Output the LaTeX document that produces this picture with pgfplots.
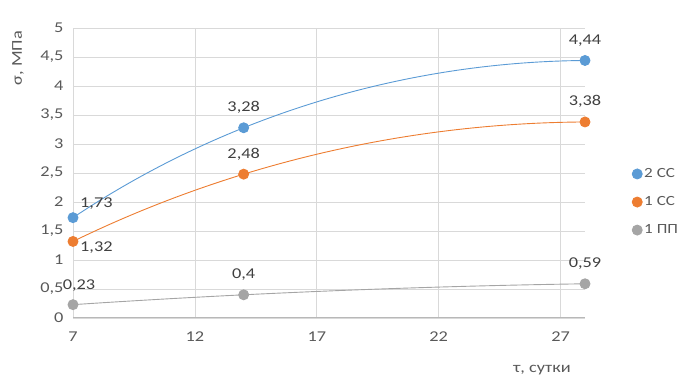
\documentclass[border=0pt]{standalone}
\usepackage{fontspec}
\setmainfont{Carlito}[FakeStretch=1.22]
\usepackage{pgfplots}
\pgfplotsset{compat=1.18}
\usetikzlibrary{hobby}
\definecolor{cblue}{HTML}{5B9BD5}
\definecolor{corange}{HTML}{ED7D31}
\definecolor{cgray}{HTML}{A5A5A5}
\definecolor{ctext}{HTML}{595959}
\definecolor{clab}{HTML}{404040}
\definecolor{cgrid}{HTML}{D9D9D9}
\begin{document}
\begin{tikzpicture}[x=1pt,y=1pt]
\useasboundingbox (-73,-64) rectangle (611,318);
\begin{axis}[
  scale only axis, width=512pt, height=290pt, at={(0,0)}, anchor=south west,
  xmin=7, xmax=28, ymin=0, ymax=5,
  clip=false,
  xtick={7,12,17,22,27},
  ytick={0,0.5,1,1.5,2,2.5,3,3.5,4,4.5,5},
  grid=major, major grid style={draw=cgrid, line width=0.8pt},
  axis x line*=bottom, axis y line*=left,
  y axis line style={draw=none},
  x axis line style={draw=black!28, line width=1pt},
  major tick length=0pt,
  tick label style={font=\fontsize{15}{18}\selectfont, text=ctext},
  /pgf/number format/use comma,
  /pgf/number format/assume math mode=true,
  yticklabel style={xshift=-6pt},
  xticklabel style={yshift=-10pt},
  legend style={draw=none, fill=none, at={(rel axis cs:1.086,0.40)}, anchor=west,
    font=\fontsize{14}{16}\selectfont, text=ctext, row sep=13.5pt},
  legend cell align=left,
  legend image code/.code={\draw[#1, only marks] plot coordinates {(0.12cm,0cm)};},
  every axis plot/.append style={line width=0.9pt},
]
\addplot[cblue, hobby, mark=*, mark size=5pt, mark options={fill=cblue, draw=cblue}]
  coordinates {(7,1.73) (14,3.28) (28,4.44)};
\addlegendentry{2 СС}
\addplot[corange, hobby, mark=*, mark size=5pt, mark options={fill=corange, draw=corange}]
  coordinates {(7,1.32) (14,2.48) (28,3.38)};
\addlegendentry{1 СС}
\addplot[cgray, hobby, mark=*, mark size=5pt, mark options={fill=cgray, draw=cgray}]
  coordinates {(7,0.23) (14,0.40) (28,0.59)};
\addlegendentry{1 ПП}
\begin{scope}[every node/.style={font=\fontsize{15}{18}\selectfont, text=clab, inner sep=0pt}]
\node[anchor=west] at ([xshift=7pt,yshift=14pt]axis cs:7,1.73) {1,73};
\node[anchor=west] at ([xshift=7pt,yshift=-6pt]axis cs:7,1.32) {1,32};
\node[anchor=south] at ([xshift=6pt,yshift=13pt]axis cs:7,0.23) {0,23};
\node[anchor=south] at ([yshift=14pt]axis cs:14,3.28) {3,28};
\node[anchor=south] at ([yshift=14pt]axis cs:14,2.48) {2,48};
\node[anchor=south] at ([yshift=14pt]axis cs:14,0.40) {0,4};
\node[anchor=south] at ([yshift=14pt]axis cs:28,4.44) {4,44};
\node[anchor=south] at ([yshift=14pt]axis cs:28,3.38) {3,38};
\node[anchor=south] at ([yshift=14pt]axis cs:28,0.59) {0,59};
\end{scope}
\end{axis}
\node[rotate=90, font=\fontsize{15}{18}\selectfont, text=ctext] at (-55,260) {σ, МПа};
\node[font=\fontsize{15}{18}\selectfont, text=ctext] at (469,-52) {τ, сутки};
\end{tikzpicture}
\end{document}
